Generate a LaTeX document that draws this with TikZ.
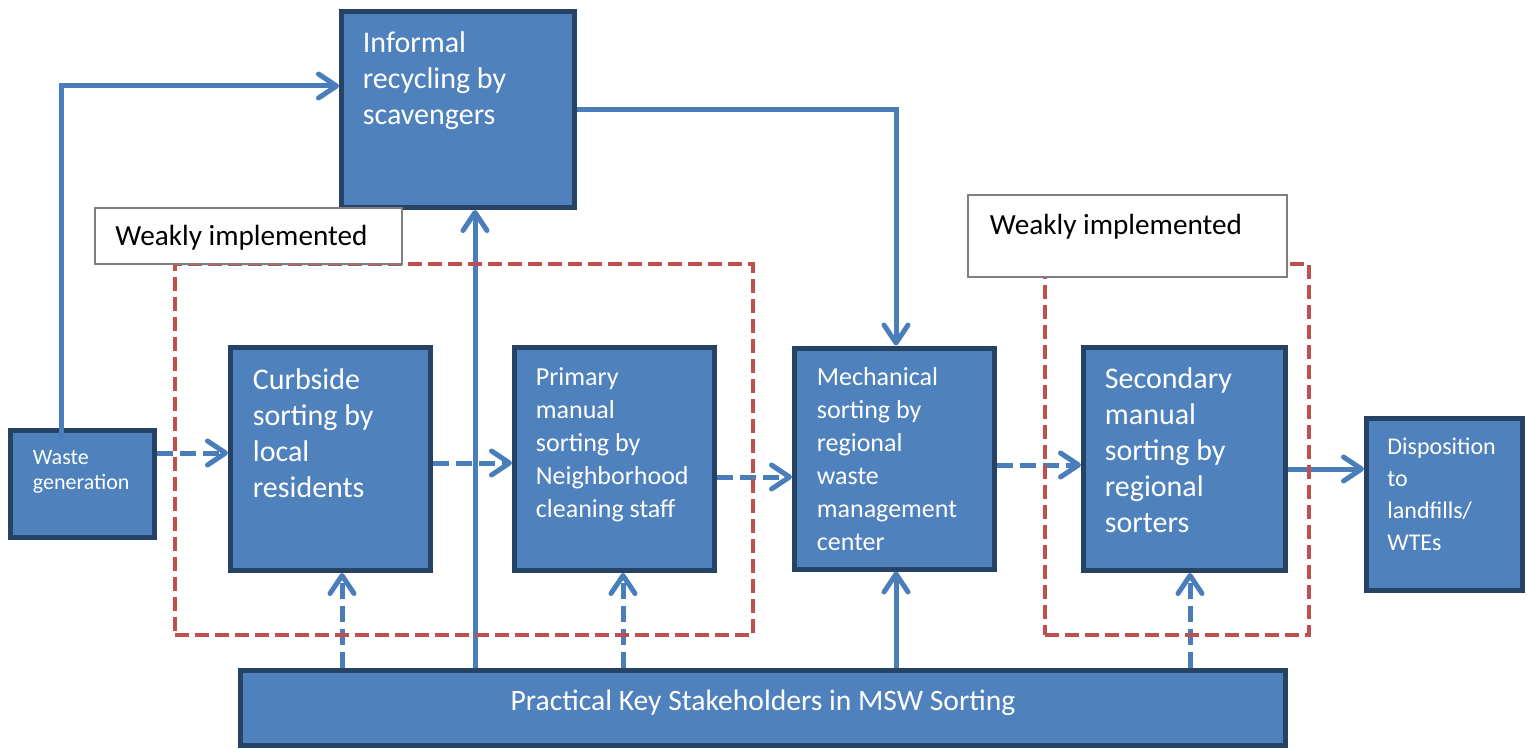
\documentclass[tikz,border=0pt]{standalone}
\usepackage{fontspec}
\setmainfont{Carlito}
\usetikzlibrary{arrows.meta,fit,calc}
\definecolor{boxfill}{HTML}{4F81BD}
\definecolor{boxline}{HTML}{264365}
\definecolor{flowblue}{HTML}{4A7EBB}
\definecolor{zonered}{HTML}{C0504D}
\definecolor{notegrey}{HTML}{7F7F7F}

\begin{document}
\begin{tikzpicture}[x=0.5pt,y=-0.5pt,
  stage/.style={draw=boxline, fill=boxfill, line width=2.5pt, inner sep=0pt},
  stagetext/.style={anchor=north west, inner sep=0pt, align=left, text=white},
  note/.style={draw=notegrey, fill=white, line width=1pt, inner sep=0pt},
  notetext/.style={anchor=north west, inner sep=0pt, text=black, font=\fontsize{14.6}{17}\selectfont},
  zone/.style={draw=zonered, line width=2.25pt, dash pattern=on 7pt off 3pt, inner sep=0pt},
  flow/.style={draw=flowblue, line width=2.5pt, -{Straight Barb[length=9pt,width=12pt,round]}},
  weakflow/.style={flow, dash pattern=on 8pt off 3.5pt},
  big/.style={font=\fontsize{15}{18}\selectfont},
  mid/.style={font=\fontsize{13}{16.5}\selectfont},
]
\useasboundingbox (0,0) rectangle (1527,749);

% process stages
\node[stage, fit={(10.5,430.5) (154.5,537.5)}] (waste) {};
\node[stage, fit={(341.5,11.5) (574.5,207.5)}] (inf) {};
\node[stage, fit={(230.5,347.5) (430.5,570.5)}] (curb) {};
\node[stage, fit={(514.5,347.5) (714.5,570.5)}] (prim) {};
\node[stage, fit={(794.5,348) (994.5,569)}] (mech) {};
\node[stage, fit={(1083.5,347.5) (1285.5,570.5)}] (sec) {};
\node[stage, fit={(1366.5,418.5) (1522.5,590.5)}] (disp) {};
\node[stage, fit={(240.5,670.5) (1285.5,745.5)}] (prac) {};

% stage labels
\node[stagetext, font=\fontsize{11}{12.5}\selectfont] (twaste) at ([shift={(24.5,21.5)}]waste.north west) {Waste\\generation};
\node[stagetext, big] (tinf) at ([shift={(23.5,22)}]inf.north west) {Informal\\recycling by\\scavengers};
\node[stagetext, big] (tcurb) at ([shift={(24.5,23.5)}]curb.north west) {Curbside\\sorting by\\local\\residents};
\node[stagetext, mid] (tprim) at ([shift={(23.5,22.5)}]prim.north west) {Primary\\manual\\sorting by\\Neighborhood\\cleaning staff};
\node[stagetext, mid] (tmech) at ([shift={(24.5,22)}]mech.north west) {Mechanical\\sorting by\\regional\\waste\\management\\center};
\node[stagetext, big] (tsec) at ([shift={(23.5,22)}]sec.north west) {Secondary\\manual\\sorting by\\regional\\sorters};
\node[stagetext, font=\fontsize{12}{16}\selectfont] (tdisp) at ([shift={(23,21.5)}]disp.north west) {Disposition\\to\\landfills/\\WTEs};
\node[anchor=base, inner sep=0pt, text=white, font=\fontsize{14.8}{17}\selectfont] (tprac) at ([shift={(0,2.25)}]prac.center) {Practical Key Stakeholders in MSW Sorting};

% tap points of the connectors
\coordinate (wx) at (61,86);
\coordinate (ix) at (475,0);
\coordinate (cx) at (342,0);
\coordinate (px) at (623,0);
\coordinate (mx) at (896,0);
\coordinate (sx) at (1190,0);
\coordinate (h1) at (0,453);
\coordinate (h2) at (0,463);
\coordinate (h3) at (0,477);
\coordinate (h4) at (0,465);
\coordinate (h5) at (0,469);

% flows
\draw[flow] ([yshift=-6.5pt]waste.north -| wx) |- (inf.west |- wx);
\draw[flow] (inf.east) -| (mech.north -| mx);
\draw[weakflow] (waste.east |- h1) -- (curb.west |- h1);
\draw[weakflow] (curb.east |- h2) -- (prim.west |- h2);
\draw[weakflow] (prim.east |- h3) -- (mech.west |- h3);
\draw[weakflow] (mech.east |- h4) -- (sec.west |- h4);
\draw[flow] (sec.east |- h5) -- (disp.west |- h5);
\draw[flow] (prac.north -| ix) -- (inf.south -| ix);
\draw[weakflow] (prac.north -| cx) -- (curb.south -| cx);
\draw[weakflow] (prac.north -| px) -- (prim.south -| px);
\draw[flow] (prac.north -| mx) -- (mech.south -| mx);
\draw[weakflow] (prac.north -| sx) -- (sec.south -| sx);

% weakly implemented zones
\node[zone, fit={(175,264) (753,635)}] (zoneA) {};
\node[zone, fit={(1045,264) (1309,635)}] (zoneB) {};
\node[note, fit={(95,208) (402,264)}] (noteA) {};
\node[note, fit={(968,195) (1287,277)}] (noteB) {};
\node[notetext] (tnoteA) at ([shift={(21,18)}]noteA.north west) {Weakly implemented};
\node[notetext] (tnoteB) at ([shift={(22.5,19.5)}]noteB.north west) {Weakly implemented};
\end{tikzpicture}
\end{document}
